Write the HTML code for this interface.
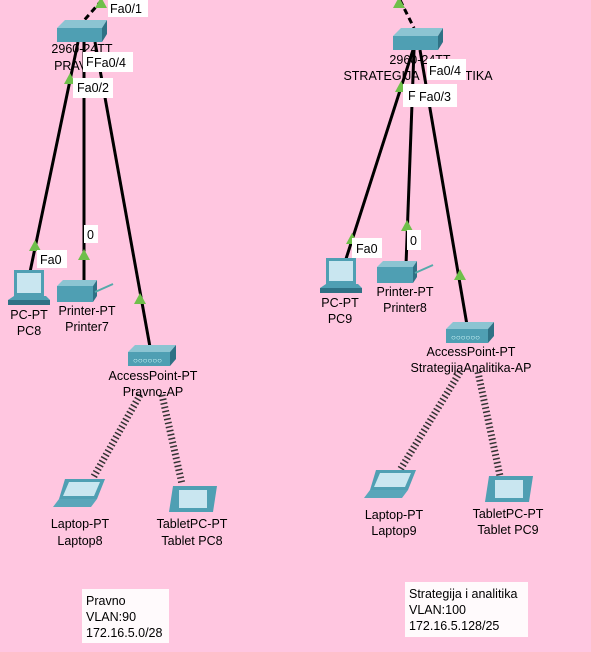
<!DOCTYPE html>
<html><head><meta charset="utf-8"><style>
html,body{margin:0;padding:0;background:#ffc6e0;}
svg{display:block;font-family:"Liberation Sans",sans-serif;font-size:12.5px;}
</style></head><body>
<svg width="591" height="652" viewBox="0 0 591 652" xmlns="http://www.w3.org/2000/svg">
<defs>
<g id="sw"><polygon points="0,8 8,0 50,0 45,8" fill="#8cc4d2"/><rect x="0" y="8" width="45" height="14" fill="#4f9fb3"/><polygon points="45,8 50,0 50,14 45,22" fill="#2f7185"/></g>
<g id="pc"><rect x="6" y="0" width="30" height="26" fill="#4f9fb3"/><rect x="9" y="3" width="24" height="20" fill="#c9e6f0"/><polygon points="0,30 6,26 38,26 42,30" fill="#4f9fb3"/><rect x="0" y="30" width="42" height="5" fill="#2f7185"/></g>
<g id="pr"><polygon points="0,6 6,0 40,0 36,6" fill="#8cc4d2"/><rect x="0" y="6" width="36" height="16" fill="#4f9fb3"/><polygon points="36,6 40,0 40,16 36,22" fill="#2f7185"/><line x1="38" y1="12" x2="56" y2="4" stroke="#5aa" stroke-width="2"/></g>
<g id="ap"><polygon points="0,7 7,0 48,0 42,7" fill="#8cc4d2"/><rect x="0" y="7" width="42" height="14" fill="#4f9fb3"/><polygon points="42,7 48,0 48,14 42,21" fill="#2f7185"/><text x="5" y="18" font-size="8" fill="#dff">○○○○○○</text></g>
<g id="lt"><polygon points="12,0 52,0 44,20 6,20" fill="#4f9fb3"/><polygon points="16,3 47,3 41,17 10,17" fill="#c9e6f0"/><polygon points="0,28 6,20 44,20 38,28" fill="#5aa6ba"/></g>
<g id="tb"><polygon points="6,0 50,0 46,26 2,26" fill="#4f9fb3"/><rect x="12" y="4" width="28" height="18" fill="#c9e6f0"/></g>
<polygon id="tri" points="0,-7 6,4 -6,4" fill="#6fbf4a"/>
</defs>

<!-- LEFT -->
<line x1="102" y1="0" x2="80" y2="25" stroke="#000" stroke-width="3" stroke-dasharray="6,4"/>
<use href="#tri" x="101" y="4"/>
<line x1="78" y1="42" x2="30" y2="272" stroke="#000" stroke-width="3"/>
<line x1="84" y1="42" x2="84" y2="282" stroke="#000" stroke-width="3"/>
<line x1="95" y1="42" x2="150" y2="347" stroke="#000" stroke-width="3"/>
<use href="#sw" x="57" y="20"/>
<text x="82" y="53" text-anchor="middle">2960-24TT</text>
<text x="80" y="70" text-anchor="middle">PRAVNO</text>
<use href="#tri" x="70" y="80"/>
<use href="#tri" x="35" y="247"/>
<use href="#tri" x="84" y="256"/>
<use href="#tri" x="140" y="300"/>
<rect x="108" y="0" width="40" height="17" fill="#fff"/><text x="110" y="13">Fa0/1</text>
<rect x="83" y="52" width="50" height="20" fill="#fff"/><text x="86" y="66">F</text><text x="94" y="67">Fa0/4</text>
<rect x="73" y="78" width="40" height="20" fill="#fff"/><text x="77" y="92">Fa0/2</text>
<rect x="84" y="225" width="14" height="18" fill="#fff"/><text x="87" y="239">0</text>
<rect x="37" y="250" width="30" height="18" fill="#fff"/><text x="40" y="264">Fa0</text>
<use href="#pc" x="8" y="270"/>
<text x="29" y="319" text-anchor="middle">PC-PT</text><text x="29" y="335" text-anchor="middle">PC8</text>
<use href="#pr" x="57" y="280"/>
<text x="87" y="315" text-anchor="middle">Printer-PT</text><text x="87" y="331" text-anchor="middle">Printer7</text>
<line x1="140" y1="395" x2="93" y2="478" stroke="#333" stroke-width="7" stroke-dasharray="1.5,2.5"/>
<line x1="162" y1="395" x2="182" y2="484" stroke="#333" stroke-width="7" stroke-dasharray="1.5,2.5"/>
<use href="#ap" x="128" y="345"/>
<text x="153" y="380" text-anchor="middle">AccessPoint-PT</text><text x="153" y="396" text-anchor="middle">Pravno-AP</text>
<use href="#lt" x="53" y="479"/>
<text x="80" y="528" text-anchor="middle">Laptop-PT</text><text x="80" y="545" text-anchor="middle">Laptop8</text>
<use href="#tb" x="167" y="486"/>
<text x="192" y="528" text-anchor="middle">TabletPC-PT</text><text x="192" y="545" text-anchor="middle">Tablet PC8</text>
<rect x="82" y="589" width="87" height="54" fill="#fff" fill-opacity="0.9"/>
<text x="86" y="605">Pravno</text><text x="86" y="621">VLAN:90</text><text x="86" y="637">172.16.5.0/28</text>

<!-- RIGHT -->
<line x1="400" y1="0" x2="414" y2="28" stroke="#000" stroke-width="3" stroke-dasharray="6,4"/>
<use href="#tri" x="399" y="4"/>
<line x1="413" y1="50" x2="345" y2="262" stroke="#000" stroke-width="3"/>
<line x1="414" y1="50" x2="406" y2="265" stroke="#000" stroke-width="3"/>
<line x1="420" y1="50" x2="467" y2="325" stroke="#000" stroke-width="3"/>
<use href="#sw" x="393" y="28"/>
<text x="420" y="64" text-anchor="middle">2960-24TT</text>
<text x="418" y="80" text-anchor="middle">STRATEGIJA I ANALITIKA</text>
<use href="#tri" x="401" y="88"/>
<use href="#tri" x="352" y="240"/>
<use href="#tri" x="407" y="227"/>
<use href="#tri" x="460" y="276"/>
<rect x="427" y="59" width="39" height="21" fill="#fff"/><text x="429" y="75">Fa0/4</text>
<rect x="403" y="84" width="54" height="23" fill="#fff"/><text x="408" y="100">F</text><text x="419" y="101">Fa0/3</text>
<rect x="407" y="230" width="14" height="20" fill="#fff"/><text x="410" y="245">0</text>
<rect x="352" y="238" width="30" height="20" fill="#fff"/><text x="356" y="253">Fa0</text>
<use href="#pc" x="320" y="258"/>
<text x="340" y="307" text-anchor="middle">PC-PT</text><text x="340" y="323" text-anchor="middle">PC9</text>
<use href="#pr" x="377" y="261"/>
<text x="405" y="296" text-anchor="middle">Printer-PT</text><text x="405" y="312" text-anchor="middle">Printer8</text>
<line x1="460" y1="372" x2="400" y2="470" stroke="#333" stroke-width="7" stroke-dasharray="1.5,2.5"/>
<line x1="478" y1="372" x2="500" y2="476" stroke="#333" stroke-width="7" stroke-dasharray="1.5,2.5"/>
<use href="#ap" x="446" y="322"/>
<text x="471" y="356" text-anchor="middle">AccessPoint-PT</text><text x="471" y="372" text-anchor="middle">StrategijaAnalitika-AP</text>
<use href="#lt" x="364" y="470"/>
<text x="394" y="519" text-anchor="middle">Laptop-PT</text><text x="394" y="535" text-anchor="middle">Laptop9</text>
<use href="#tb" x="483" y="476"/>
<text x="508" y="518" text-anchor="middle">TabletPC-PT</text><text x="508" y="534" text-anchor="middle">Tablet PC9</text>
<rect x="405" y="582" width="123" height="55" fill="#fff" fill-opacity="0.9"/>
<text x="409" y="598">Strategija i analitika</text><text x="409" y="614">VLAN:100</text><text x="409" y="630">172.16.5.128/25</text>
</svg>
</body></html>
